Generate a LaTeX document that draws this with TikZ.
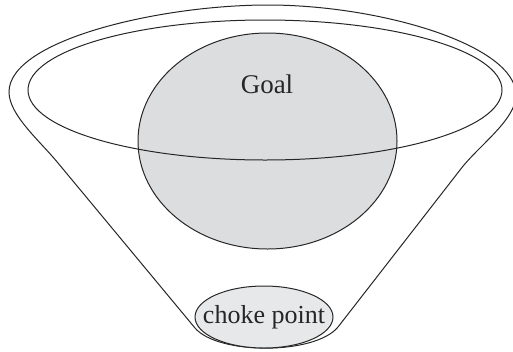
\documentclass[tikz,border=0pt]{standalone}
\usepackage{fontspec}
\setmainfont{Liberation Serif}
\usetikzlibrary{shapes.geometric}
\definecolor{goalgray}{RGB}{220,221,223}
\definecolor{chokegray}{RGB}{231,232,233}
\tikzset{
  outline/.style={draw=black!85, line width=1pt},
  blob/.style={ellipse, outline, inner sep=0pt},
  lbl/.style={text=black!85, inner sep=0pt}
}
\begin{document}
\begin{tikzpicture}[x=1pt, y=-1pt]
  \useasboundingbox (0,0) rectangle (513,351);
  % funnel outline
  \draw[outline]
    (195,328) -- (58,163)
    .. controls (40,141) and (9,115) .. (9,92)
    .. controls (9,40) and (160,5) .. (268,5)
    .. controls (380,5) and (516,45) .. (516,95)
    .. controls (516,120) and (478,146) .. (460,170)
    -- (338,327)
    .. controls (315,355) and (218,355) .. (195,328) -- cycle;
  % goal body and its label
  \node[blob, fill=goalgray, minimum width=259pt, minimum height=216pt] (goalbody) at (267.5,141) {};
  \node[lbl, font=\fontsize{27}{30}\selectfont] (goal) at (267,84) {Goal};
  % rim of the funnel
  \node[ellipse, outline, inner sep=0pt, minimum width=474pt, minimum height=140pt] (rim) at (265,90) {};
  % choke point at the bottom
  \node[blob, fill=chokegray, minimum width=138pt, minimum height=62pt] (choke) at (264,317) {};
  \node[lbl, font=\fontsize{26}{30}\selectfont] (chokelabel) at (choke.center) {choke point};
\end{tikzpicture}
\end{document}
